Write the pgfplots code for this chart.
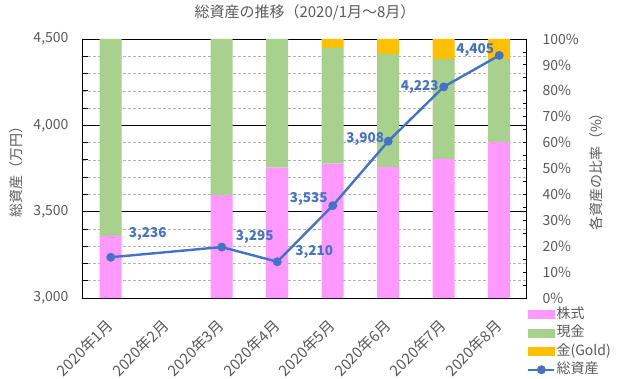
\documentclass[border=0pt]{standalone}
\usepackage{fontspec}
\setmainfont{Noto Sans CJK JP}
\usepackage{pgfplots}
\usepackage{pgfplotstable}
\pgfplotsset{compat=1.18}
\definecolor{pinkc}{HTML}{FF99FF}
\definecolor{greenc}{HTML}{A9D18E}
\definecolor{goldc}{HTML}{FFC000}
\definecolor{bluec}{HTML}{4472C4}
\definecolor{txt}{HTML}{595959}
\pgfplotsset{
  /pgf/number format/assume math mode=true,
  base/.style={scale only axis, width=444pt, height=259pt, xmin=-0.5, xmax=7.5, at={(0pt,0pt)}, anchor=south west},
}
\pgfplotstableread{
x share cash gold
0 24.0 76.0 0.0
1 0 0 0
2 39.7 60.3 0.0
3 50.3 49.7 0.0
4 51.9 44.7 3.4
5 50.6 43.7 5.7
6 53.7 38.5 7.8
7 60.3 31.9 7.8
}\ratio
\pgfplotstableread{
x y dx dy
0 3236 37 23
2 3295 33 10
3 3210 37 10
4 3535 -24 7
5 3908 -23 2
6 4223 -24 0
7 4405 -24 5
}\total
\begin{document}
\begin{tikzpicture}[font=\fontsize{14}{16}\selectfont]
\useasboundingbox (-83pt,-80pt) rectangle (536pt,298pt);
% frame and grid (left axis)
\begin{axis}[base, ymin=3000, ymax=4500,
  ytick={3000,3500,4000,4500},
  minor ytick={3100,3200,3300,3400,3600,3700,3800,3900,4100,4200,4300,4400},
  ymajorgrids, yminorgrids,
  major grid style={black, line width=0.8pt},
  minor grid style={black!30, dash pattern=on 3pt off 2pt, line width=0.6pt},
  ytick pos=left, tick align=inside, major tick length=5pt, minor tick length=5pt,
  ytick style={black, line width=0.8pt},
  xtick={0,...,7},
  xticklabels={2020年1月,2020年2月,2020年3月,2020年4月,2020年5月,2020年6月,2020年7月,2020年8月},
  xtick style={draw=none},
  xticklabel style={yshift=-22pt, xshift=2pt, rotate=45, anchor=east, text=txt, font=\fontsize{15}{17}\selectfont},
  yticklabel style={text=txt, xshift=-11pt},
  axis line style={black, line width=1pt},
  /pgf/number format/1000 sep={,},
  title={総資産の推移（2020/1月～8月）},
  title style={at={(axis description cs:0.5,1)}, anchor=center, yshift=21pt, text=txt, font=\fontsize{15}{17}\selectfont},
  ylabel={総資産（万円）},
  every axis y label/.style={at={(axis description cs:-0.150,0.5)}, rotate=90, anchor=center, text=txt},
]
\end{axis}
% bars (right axis)
\begin{axis}[base, ymin=0, ymax=100, axis y line*=right, hide x axis,
  ybar stacked, bar width=22pt,
  ytick={0,10,...,100}, minor ytick={5,15,...,95},
  yticklabel={\pgfmathprintnumber{\tick}\%},
  yticklabel style={text=txt, xshift=12pt},
  tick align=inside, major tick length=4pt, minor tick length=4pt,
  ytick style={black, line width=0.8pt},
  axis line style={black, line width=1pt},
  ylabel={各資産の比率（\%）},
  every axis y label/.style={at={(axis description cs:1.155,0.5)}, rotate=90, anchor=center, text=txt},
]
\addplot[fill=pinkc, draw=none] table[x=x,y=share]{\ratio};
\addplot[fill=greenc, draw=none] table[x=x,y=cash]{\ratio};
\addplot[fill=goldc, draw=none] table[x=x,y=gold]{\ratio};
\end{axis}
% line (left scale)
\begin{axis}[base, ymin=3000, ymax=4500, hide axis, clip=false,
  /pgf/number format/1000 sep={,},
  legend style={at={(axis description cs:1.0,-0.031)}, anchor=north west, draw=none, fill=none,
    inner sep=0pt, row sep=2.5pt, text=txt, font=\fontsize{14}{16}\selectfont,
    nodes={inner sep=1pt, text height=11pt, text depth=3pt}},
  legend cell align=left,
  legend image code/.code={\draw[mark repeat=2,mark phase=2,#1] plot coordinates {(0pt,0pt) (13pt,0pt) (26pt,0pt)};},
]
\addlegendimage{legend image code/.code={\fill[pinkc] (0pt,-4pt) rectangle (26pt,4pt);}}
\addlegendentry{株式}
\addlegendimage{legend image code/.code={\fill[greenc] (0pt,-4pt) rectangle (26pt,4pt);}}
\addlegendentry{現金}
\addlegendimage{legend image code/.code={\fill[goldc] (0pt,-4pt) rectangle (26pt,4pt);}}
\addlegendentry{金(Gold)}
\addplot[bluec, line width=2.4pt, mark=*, mark size=3.2pt, mark options={solid},
  point meta=explicit,
  nodes near coords,
  visualization depends on={\thisrow{dx}\as\dx},
  visualization depends on={\thisrow{dy}\as\dy},
  nodes near coords style={anchor=center, xshift=\dx pt, yshift=\dy pt, text=bluec,
    font=\fontsize{13.5}{15}\selectfont\bfseries},
] table[x=x,y=y,meta=y]{\total};
\addlegendentry{総資産}
\end{axis}
\end{tikzpicture}
\end{document}
